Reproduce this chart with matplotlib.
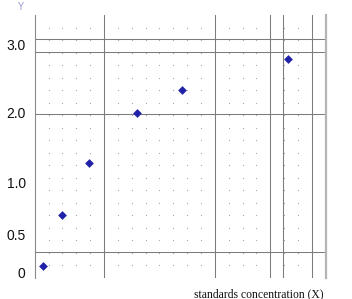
import numpy as np
import matplotlib
matplotlib.use("Agg")
import matplotlib.pyplot as plt

# ---- data ----
x_values = [2.85, 9.4, 18.7, 35.2, 50.6, 87.2]
y_values = [0.09, 0.69, 1.29, 2.00, 2.34, 2.78]
ytick_values = [0, 0.5, 1.0, 2.0, 3.0]
ytick_labels = ["0", "0.5", "1.0", "2.0", "3.0"]
x_label = "standards concentration (X)"
y_label = "Y"
# graph-paper lines (data units)
vlines_x = [23.7, 61.9, 80.8, 85.4, 95.2]
hlines_y = [3.07, 2.88, 1.98, 0.27]

# ---- non-linear y scale of the paper (value -> height in px above axes bottom) ----
tick_heights = [4.7, 42.7, 94.7, 164.7, 233.7]
lo_slope = (tick_heights[1] - tick_heights[0]) / (ytick_values[1] - ytick_values[0])
hi_slope = (tick_heights[-1] - tick_heights[-2]) / (ytick_values[-1] - ytick_values[-2])
ext_vals = np.array([ytick_values[0] - 10] + ytick_values + [ytick_values[-1] + 10], float)
ext_pos = np.array([tick_heights[0] - 10 * lo_slope] + tick_heights + [tick_heights[-1] + 10 * hi_slope], float)

def fwd(v):
    return np.interp(v, ext_vals, ext_pos)

def inv(p):
    return np.interp(p, ext_pos, ext_vals)

W, H, DPI = 352, 299, 100
fig = plt.figure(figsize=(W / DPI, H / DPI), dpi=DPI)
left_px, right_px, top_px, bottom_px = 34.7, 325.7, 15.0, 277.7
rect = [left_px / W, 1 - bottom_px / H, (right_px - left_px) / W, (bottom_px - top_px) / H]

# background dotted grid (21 x 21 cells)
bg = fig.add_axes(rect, zorder=0)
bg.set_xlim(0, 21)
bg.set_ylim(0, 21)
gx, gy = np.meshgrid(np.arange(1, 21), np.arange(1, 21))
bg.scatter(gx.ravel(), gy.ravel(), s=0.8, color="#a8a8a8", linewidths=0)
bg.axis("off")

ax = fig.add_axes(rect, zorder=1)
ax.patch.set_alpha(0)
ax.set_yscale("function", functions=(fwd, inv))
ax.set_xlim(0, 100)
ax.set_ylim(inv(0), inv(bottom_px - top_px))

for xv in vlines_x:
    ax.axvline(xv, color="#7c7c7c", lw=0.75, zorder=1)
for yv in hlines_y:
    ax.axhline(yv, color="#7c7c7c", lw=0.75, zorder=1)

ax.scatter(x_values, y_values, marker="D", s=20, color="#2222a8", zorder=3, linewidths=0)

ax.set_xticks([])
ax.set_yticks(ytick_values)
ax.set_yticklabels(ytick_labels, fontsize=10, family="Liberation Sans", color="#111111")
ax.tick_params(axis="y", length=0, pad=6.5)
ax.minorticks_off()

for s in ["top", "bottom"]:
    ax.spines[s].set_visible(False)
ax.spines["left"].set_color("#8a8a8a")
ax.spines["left"].set_linewidth(0.8)
ax.spines["right"].set_color("#b4b4b4")
ax.spines["right"].set_linewidth(1.6)

fig.text(20 / W, 1 - 7 / H, y_label, ha="center", va="center", fontsize=7,
         color="#9a9ad6", family="DejaVu Sans")
fig.text(258.5 / W, 1 - 294 / H, x_label, ha="center", va="center", fontsize=8.4,
         family="Liberation Serif", color="#111111")

fig.savefig("out.png", dpi=DPI)
